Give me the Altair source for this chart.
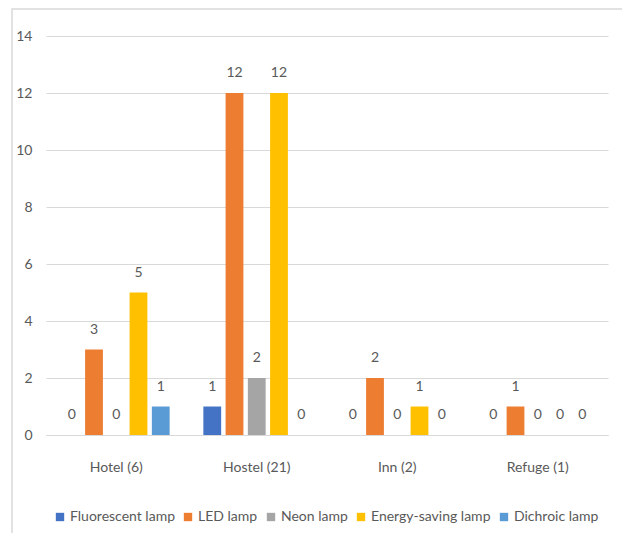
import altair as alt
import pandas as pd

categories = ["Hotel (6)", "Hostel (21)", "Inn (2)", "Refuge (1)"]
series = ["Fluorescent lamp", "LED lamp", "Neon lamp", "Energy-saving lamp", "Dichroic lamp"]
fluorescent = [0, 1, 0, 0]
led = [3, 12, 2, 1]
neon = [0, 2, 0, 0]
energy_saving = [5, 12, 1, 0]
dichroic = [1, 0, 0, 0]
colors = ["#4472C4", "#ED7D31", "#A5A5A5", "#FFC000", "#5B9BD5"]
y_ticks = [0, 2, 4, 6, 8, 10, 12, 14]

rows = []
for s, vals in zip(series, [fluorescent, led, neon, energy_saving, dichroic]):
    for c, v in zip(categories, vals):
        rows.append({"category": c, "series": s, "value": v})
df = pd.DataFrame(rows)

FONT = "Lato"
GRAY = "#595959"
FS = 14

x_enc = alt.X("category:N", sort=categories,
              scale=alt.Scale(paddingInner=0.24, paddingOuter=0.12),
              axis=alt.Axis(title=None, labelAngle=0, ticks=False, domain=True,
                            domainColor="#D9D9D9", labelPadding=25, labelFontSize=FS,
                            labelColor=GRAY, labelFont=FONT, grid=False))
xoff = alt.XOffset("series:N", sort=series, scale=alt.Scale(paddingInner=0.2, paddingOuter=0))
y_enc = alt.Y("value:Q", scale=alt.Scale(domain=[0, 14], nice=False),
              axis=alt.Axis(title=None, values=y_ticks, ticks=False, domain=False,
                            gridColor="#D9D9D9", gridWidth=1, labelPadding=14,
                            labelFontSize=FS, labelColor=GRAY, labelFont=FONT))

bars = alt.Chart(df).mark_bar().encode(
    x=x_enc, xOffset=xoff, y=y_enc,
    color=alt.Color("series:N", sort=series,
                    scale=alt.Scale(domain=series, range=colors),
                    legend=alt.Legend(title=None, orient="none", direction="horizontal",
                                      legendX=7, legendY=474, symbolType="square",
                                      symbolSize=70, symbolStrokeWidth=0,
                                      labelFontSize=FS, labelColor=GRAY, labelFont=FONT,
                                      columnPadding=6, symbolOffset=0, labelOffset=3)),
)

labels = alt.Chart(df).mark_text(dy=-13, baseline="bottom", fontSize=FS,
                                  color=GRAY, font=FONT).encode(
    x=alt.X("category:N", sort=categories), xOffset=alt.XOffset("series:N", sort=series),
    y="value:Q", text="value:Q",
)

border = alt.Chart(pd.DataFrame({"a": [0]})).mark_rect(
    fill=None, stroke="#D9D9D9", strokeWidth=1.5).encode(
    x=alt.value(-34), x2=alt.value(700), y=alt.value(-27), y2=alt.value(700))

chart = alt.layer(border, bars, labels).properties(
    width=562, height=399,
    autosize=alt.AutoSizeParams(type="none"),
    padding={"left": 38, "top": 28, "right": 14, "bottom": 98},
).configure_view(stroke=None)

chart.save("out.html", embed_options={"renderer": "svg", "actions": False})
